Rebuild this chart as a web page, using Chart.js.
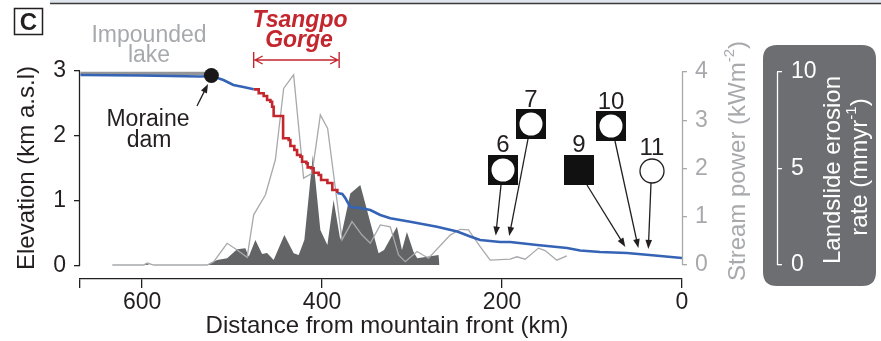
<!DOCTYPE html>
<html><head><meta charset="utf-8">
<script src="https://cdn.jsdelivr.net/npm/chart.js@4.4.1/dist/chart.umd.min.js"></script>
<style>html,body{margin:0;padding:0;background:#fff;overflow:hidden}canvas{display:block}</style>
</head><body>
<canvas id="c" width="881" height="341"></canvas>
<script>
// ---------------- data ----------------
const upKm   = [668.4, 601.8, 535.1, 522.9, 509.6, 498.5, 487.4, 476.0];
const upElev = [2.938, 2.931, 2.915, 2.923, 2.862, 2.785, 2.754, 2.718];

const gorgeKm   = [476.0, 470.4, 464.9, 461.1, 457.4, 455.5, 453.8, 444.4, 443.3, 437.1, 435.2, 430.8, 427.8, 424.1, 422.2, 417.5, 416.0, 412.2, 409.4, 403.8, 401.1, 398.6, 394.1, 388.6, 383.0];
const gorgeElev = [2.718, 2.657, 2.615, 2.554, 2.528, 2.451, 2.308, 2.308, 1.965, 1.938, 1.846, 1.785, 1.708, 1.682, 1.605, 1.580, 1.518, 1.503, 1.435, 1.400, 1.323, 1.323, 1.277, 1.169, 1.123];

const downKm   = [383.0, 377.5, 374.2, 368.6, 357.5, 346.4, 335.3, 324.2, 302.0, 272.3, 249.8, 235.4, 224.3, 202.1, 191.0, 161.0, 127.7, 113.2, 91.0, 61.1, 30.0, 0];
const downElev = [1.123, 1.108, 1.046, 0.908, 0.892, 0.862, 0.785, 0.734, 0.682, 0.605, 0.531, 0.454, 0.400, 0.369, 0.369, 0.323, 0.277, 0.238, 0.215, 0.200, 0.162, 0.123];

const lakeKm   = [668.4, 527.0];
const lakeElev = [2.962, 2.962];

const damKm   = [523.0];
const damElev = [2.93];

const streamKm    = [633.1, 598.1, 594.3, 587.0, 527.7, 520.4, 505.5, 494.4, 483.3, 476.0, 463.0, 451.9, 442.7, 431.6, 420.5, 411.1, 401.9, 393.8, 377.8, 366.7, 355.6, 346.4, 335.3, 324.2, 315.0, 307.5, 294.5, 281.7, 257.6, 246.5, 237.3, 224.3, 213.2, 191.0, 183.5, 174.3, 159.5, 152.1, 139.1, 128.0];
const streamPower = [0.0, 0.0, 0.04, 0.0, 0.0, 0.07, 0.45, 0.31, 0.16, 1.04, 1.45, 2.18, 3.66, 3.94, 1.80, 1.90, 3.11, 2.83, 0.52, 0.90, 0.62, 0.45, 0.83, 0.79, 0.21, 0.07, 0.28, 0.14, 0.62, 0.74, 0.73, 0.38, 0.10, 0.12, 0.17, 0.12, 0.35, 0.30, 0.10, 0.19];

const slideKm   = [633.1, 598.0, 596.0, 592.0, 587.0, 527.7, 516.6, 505.5, 494.4, 485.2, 481.5, 474.1, 466.6, 461.1, 453.8, 441.9, 431.5, 426.0, 419.7, 410.2, 401.9, 394.1, 387.2, 379.7, 368.6, 357.5, 337.2, 331.1, 316.8, 311.2, 305.7, 298.3, 294.2, 270.6, 269.5];
const slideRate = [0, 0, 0.09, 0, 0, 0, 0.26, 0.35, 0.81, 0.87, 0.43, 1.30, 0.57, 0.62, 0.26, 1.55, 0.61, 0.52, 1.30, 5.70, 1.81, 1.04, 3.37, 1.30, 3.71, 4.15, 0.61, 0.78, 1.98, 0.78, 1.71, 0.67, 0.35, 0.52, 0];

const distTicks  = [669, 600, 400, 200, 0];
const elevTicks  = [0, 1, 2, 3];
const powerTicks = [0, 1, 2, 3, 4];
const slideTicks = [0, 5, 10];

const gorgeSpan = [476, 381];
const sampleIds = ['6', '7', '9', '10', '11'];
const sampleKm  = [207, 192, 63, 48.5, 37.4];
const sampleSym = ['ring', 'ring', 'square', 'ring', 'circle'];

// ---------------- styles ----------------
const F = "'Liberation Sans', Arial, Helvetica, sans-serif";
const INK = '#231f20', BLUE = '#3563b5', RED = '#c4262e', GREY = '#a7a9ac', FILL = '#636466', BOX = '#6d6e71';
// annotation glyph layout (pixel centres of the sample symbols / labels / arrow tails)
const sampleBox   = [[503,170],[531,124],[579,170],[611,126],[652,171]];
const sampleLabY  = [145, 100, 145, 102, 148];
const sampleTail  = [[501,185],[528,139],[587,185],[615,141],[651,183]];

function pts(xs, ys) { return xs.map((x, i) => ({x: x, y: ys[i]})); }
function fixTicks(v) { return s => { s.ticks = v.map(t => ({value: t})); }; }
function fixWidth(w) { return s => { s.width = w; }; }

function elevAt(km) {
  for (let i = 0; i < downKm.length - 1; i++) {
    if (km <= downKm[i] && km >= downKm[i+1]) {
      const t = (km - downKm[i]) / (downKm[i+1] - downKm[i]);
      return downElev[i] + t * (downElev[i+1] - downElev[i]);
    }
  }
  return downElev[downElev.length - 1];
}

function rich(c, parts, x, y, rot, color) {
  c.save(); c.translate(x, y); c.rotate(rot); c.fillStyle = color; c.textBaseline = 'middle'; c.textAlign = 'left';
  let w = 0;
  parts.forEach(p => { c.font = p.font; p.w = c.measureText(p.t).width; w += p.w; });
  let cx = -w / 2;
  parts.forEach(p => { c.font = p.font; c.fillText(p.t, cx, p.dy || 0); cx += p.w; });
  c.restore();
}

function arrow(c, x1, y1, x2, y2, color) {
  const a = Math.atan2(y2 - y1, x2 - x1), head = 9, hw = 3.3;
  c.strokeStyle = color; c.fillStyle = color; c.lineWidth = 1.3;
  c.beginPath(); c.moveTo(x1, y1); c.lineTo(x2 - Math.cos(a) * head * 0.7, y2 - Math.sin(a) * head * 0.7); c.stroke();
  c.beginPath(); c.moveTo(x2, y2);
  c.lineTo(x2 - head * Math.cos(a) + hw * Math.sin(a), y2 - head * Math.sin(a) - hw * Math.cos(a));
  c.lineTo(x2 - head * Math.cos(a) - hw * Math.sin(a), y2 - head * Math.sin(a) + hw * Math.cos(a));
  c.closePath(); c.fill();
}

function roundRect(c, x, y, w, h, r) {
  c.beginPath(); c.moveTo(x + r, y); c.lineTo(x + w - r, y); c.quadraticCurveTo(x + w, y, x + w, y + r);
  c.lineTo(x + w, y + h - r); c.quadraticCurveTo(x + w, y + h, x + w - r, y + h); c.lineTo(x + r, y + h);
  c.quadraticCurveTo(x, y + h, x, y + h - r); c.lineTo(x, y + r); c.quadraticCurveTo(x, y, x + r, y); c.closePath();
}

const decor = {
  id: 'decor',
  beforeDraw(chart) {
    const c = chart.ctx;
    c.save();
    c.fillStyle = '#dfe5ec'; c.fillRect(50, 0, 831, 3);
    c.strokeStyle = '#3b3b3b'; c.lineWidth = 1.5; c.beginPath(); c.moveTo(50, 3.5); c.lineTo(881, 3.5); c.stroke();
    c.fillStyle = BOX; roundRect(c, 763, 45, 113, 241, 14); c.fill();
    c.restore();
  },
  afterDraw(chart) {
    const c = chart.ctx, xs = chart.scales.x, ys = chart.scales.y, y1 = chart.scales.y1, y2 = chart.scales.y2;
    c.save();
    // axis spines limited to the tick range
    c.lineWidth = 1.3;
    c.strokeStyle = INK; c.beginPath(); c.moveTo(Math.round(ys.right) - 0.5, ys.getPixelForValue(0)); c.lineTo(Math.round(ys.right) - 0.5, ys.getPixelForValue(3)); c.stroke();
    c.strokeStyle = GREY; c.beginPath(); c.moveTo(Math.round(y1.left) + 0.5, y1.getPixelForValue(0)); c.lineTo(Math.round(y1.left) + 0.5, y1.getPixelForValue(4)); c.stroke();
    c.strokeStyle = '#ffffff'; c.beginPath(); c.moveTo(Math.round(y2.left) + 0.5, y2.getPixelForValue(0)); c.lineTo(Math.round(y2.left) + 0.5, y2.getPixelForValue(10)); c.stroke();

    // axis titles
    rich(c, [{t: 'Elevation (km a.s.l)', font: `24px ${F}`}], 27, 168, -Math.PI / 2, INK);
    rich(c, [{t: 'Distance from mountain front (km)', font: `24px ${F}`}], 387, 326, 0, INK);
    rich(c, [{t: 'Stream power (kWm', font: `24px ${F}`}, {t: '-2', font: `15px ${F}`, dy: -8}, {t: ')', font: `24px ${F}`}], 738, 161, -Math.PI / 2, GREY);
    rich(c, [{t: 'Landslide erosion', font: `24px ${F}`}], 833, 170, -Math.PI / 2, '#ffffff');
    rich(c, [{t: 'rate (mmyr', font: `24px ${F}`}, {t: '-1', font: `15px ${F}`, dy: -8}, {t: ')', font: `24px ${F}`}], 860, 167, -Math.PI / 2, '#ffffff');

    // panel letter
    c.strokeStyle = INK; c.lineWidth = 1.5; c.strokeRect(14.5, 8.5, 28, 26);
    c.fillStyle = INK; c.font = `bold 24px ${F}`; c.textAlign = 'center'; c.textBaseline = 'alphabetic'; c.fillText('C', 28.5, 30);

    // impounded lake
    c.fillStyle = GREY; c.font = `23px ${F}`;
    c.fillText('Impounded', 149, 42); c.fillText('lake', 149, 62);

    // moraine dam
    c.fillStyle = INK; c.fillText('Moraine', 148, 126); c.fillText('dam', 149, 147);
    arrow(c, 197, 106, 208, 84, INK);

    // Tsangpo Gorge
    c.fillStyle = RED; c.font = `italic bold 23px ${F}`;
    c.fillText('Tsangpo', 300, 27); c.fillText('Gorge', 299, 47);
    const gx1 = xs.getPixelForValue(gorgeSpan[0]), gx2 = xs.getPixelForValue(gorgeSpan[1]);
    c.strokeStyle = RED; c.lineWidth = 1.4;
    c.beginPath();
    c.moveTo(gx1, 52); c.lineTo(gx1, 68); c.moveTo(gx2, 52); c.lineTo(gx2, 68);
    c.moveTo(gx1 + 1, 60); c.lineTo(gx2 - 1, 60);
    c.moveTo(gx1 + 9, 56); c.lineTo(gx1 + 1.5, 60); c.lineTo(gx1 + 9, 64);
    c.moveTo(gx2 - 9, 56); c.lineTo(gx2 - 1.5, 60); c.lineTo(gx2 - 9, 64);
    c.stroke();

    // samples
    c.font = `24px ${F}`; c.textAlign = 'center'; c.textBaseline = 'middle';
    sampleIds.forEach((id, i) => {
      const [bx, by] = sampleBox[i];
      c.fillStyle = INK; c.fillText(id, bx, sampleLabY[i]);
      if (sampleSym[i] === 'ring' || sampleSym[i] === 'square') {
        c.fillStyle = '#111'; c.fillRect(bx - 15, by - 15, 30, 30);
        if (sampleSym[i] === 'ring') { c.fillStyle = '#fff'; c.beginPath(); c.arc(bx, by, 11.5, 0, Math.PI * 2); c.fill(); }
      } else {
        c.fillStyle = '#fff'; c.strokeStyle = INK; c.lineWidth = 1.3;
        c.beginPath(); c.arc(bx, by, 12, 0, Math.PI * 2); c.fill(); c.stroke();
      }
      const tx = xs.getPixelForValue(sampleKm[i]);
      const ty = ys.getPixelForValue(elevAt(sampleKm[i])) - 6;
      arrow(c, sampleTail[i][0], sampleTail[i][1], tx, ty, INK);
    });
    c.restore();
  }
};

const lineBase = {type: 'line', pointRadius: 0, tension: 0, fill: false, borderCapStyle: 'butt', borderJoinStyle: 'miter'};

new Chart(document.getElementById('c'), {
  type: 'line',
  data: {
    datasets: [
      Object.assign({}, lineBase, {label: 'dam', data: pts(damKm, damElev), showLine: false, pointRadius: 7.5, pointBackgroundColor: '#1a1718', pointBorderWidth: 0, yAxisID: 'y', order: 0, clip: false}),
      Object.assign({}, lineBase, {label: 'upstream', data: pts(upKm, upElev), borderColor: BLUE, borderWidth: 2.6, yAxisID: 'y', order: 1}),
      Object.assign({}, lineBase, {label: 'gorge', data: pts(gorgeKm, gorgeElev), borderColor: RED, borderWidth: 2.6, stepped: true, yAxisID: 'y', order: 1}),
      Object.assign({}, lineBase, {label: 'downstream', data: pts(downKm, downElev), borderColor: BLUE, borderWidth: 2.6, yAxisID: 'y', order: 1}),
      Object.assign({}, lineBase, {label: 'lake', data: pts(lakeKm, lakeElev), borderColor: '#939598', borderWidth: 3.2, yAxisID: 'y', order: 2}),
      Object.assign({}, lineBase, {label: 'stream power', data: pts(streamKm, streamPower), borderColor: GREY, borderWidth: 1.3, yAxisID: 'y1', order: 3}),
      Object.assign({}, lineBase, {label: 'landslide', data: pts(slideKm, slideRate), borderWidth: 0, borderColor: FILL, backgroundColor: FILL, fill: 'origin', yAxisID: 'y2', order: 4})
    ]
  },
  options: {
    responsive: false, animation: false, devicePixelRatio: 1,
    layout: {padding: {top: 71, left: 0, right: 0, bottom: 0}},
    plugins: {legend: {display: false}, tooltip: {enabled: false}},
    scales: {
      x: {type: 'linear', reverse: true, min: 0, max: 669, position: 'bottom',
          afterBuildTicks: fixTicks(distTicks), afterFit: s => { s.height = 62; },
          ticks: {color: INK, font: {size: 23, family: F}, padding: 1, maxRotation: 0, minRotation: 0, autoSkip: false,
                  callback: v => (v === distTicks[0] ? '' : String(v))},
          grid: {drawOnChartArea: false, tickLength: 9, color: INK, lineWidth: 1.3},
          border: {display: true, color: INK, width: 1.3}},
      y: {type: 'linear', position: 'left', min: -0.2, max: 3,
          afterBuildTicks: fixTicks(elevTicks), afterFit: fixWidth(80),
          ticks: {color: INK, font: {size: 23, family: F}, padding: 8},
          grid: {drawOnChartArea: false, tickLength: 6, color: INK, lineWidth: 1.3},
          border: {display: false}},
      y1: {type: 'linear', position: 'right', min: -0.29, max: 4.02,
          afterBuildTicks: fixTicks(powerTicks), afterFit: fixWidth(95),
          ticks: {color: GREY, font: {size: 23, family: F}, padding: 8},
          grid: {drawOnChartArea: false, tickLength: 5, color: GREY, lineWidth: 1.3},
          border: {display: false}},
      y2: {type: 'linear', position: 'right', min: -0.725, max: 10.05,
          afterBuildTicks: fixTicks(slideTicks), afterFit: fixWidth(104),
          ticks: {color: '#ffffff', font: {size: 23, family: F}, padding: 9},
          grid: {drawOnChartArea: false, tickLength: 5, color: '#ffffff', lineWidth: 1.3},
          border: {display: false}}
    }
  },
  plugins: [decor]
});
</script>
</body></html>
